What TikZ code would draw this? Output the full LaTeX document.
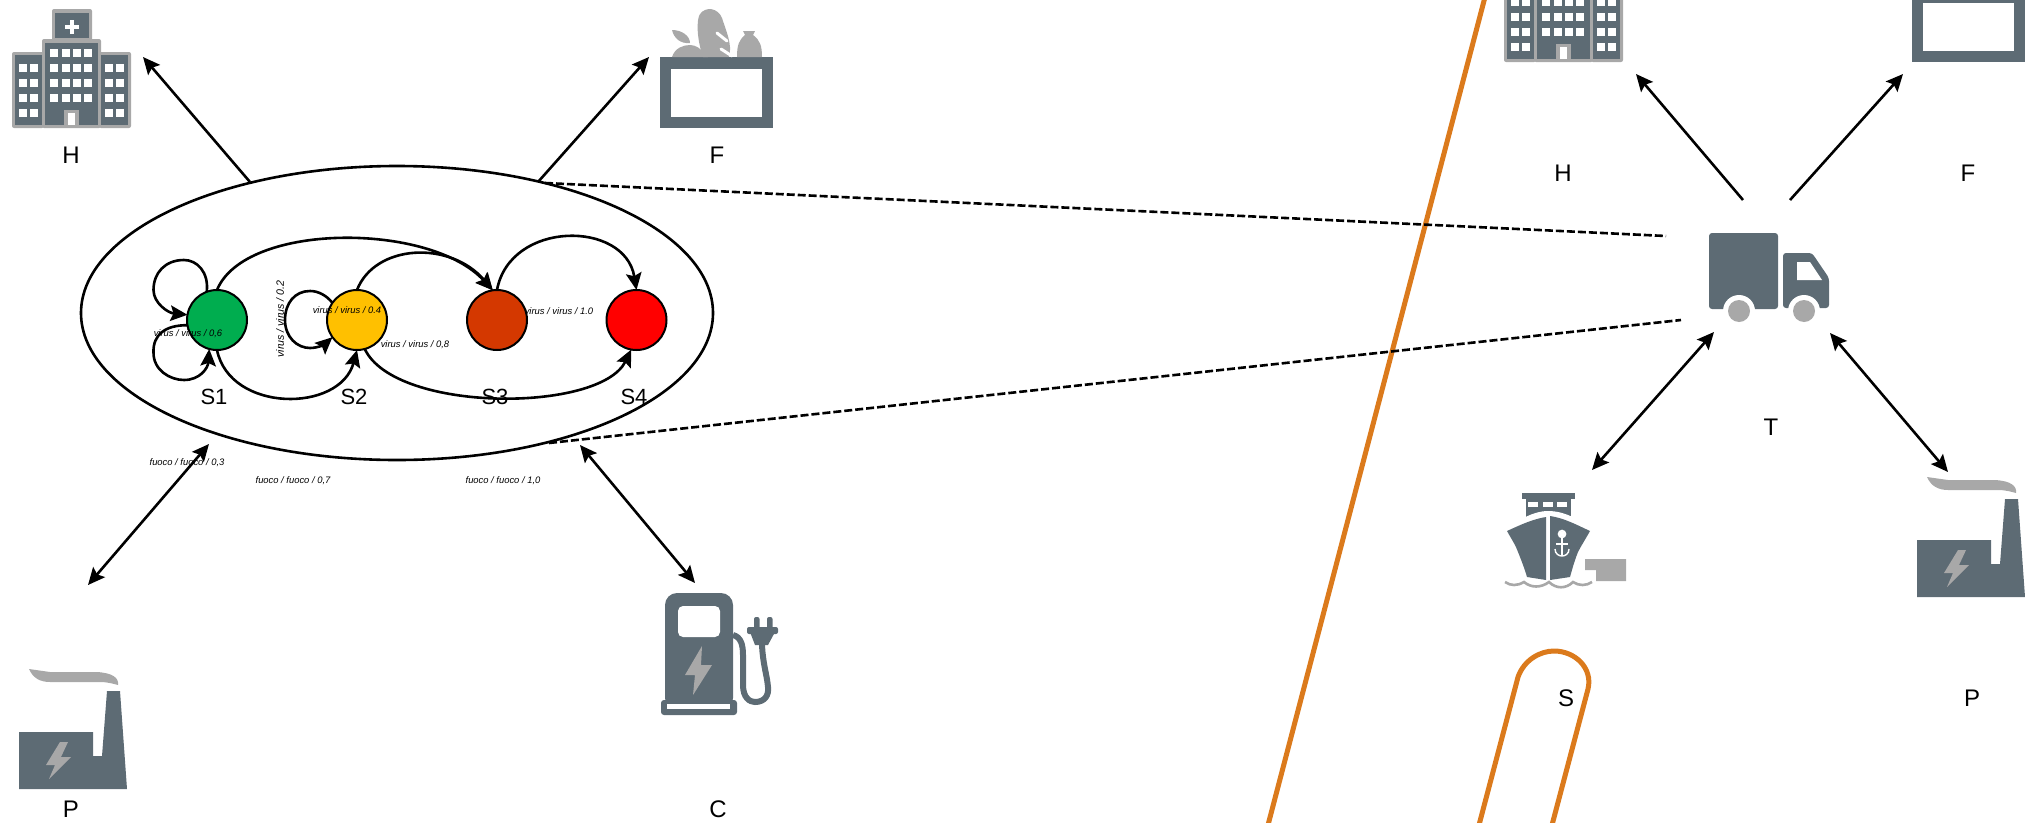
\documentclass[tikz,border=0pt]{standalone}
\usepackage{fontspec}
\setmainfont{Liberation Sans}
\usetikzlibrary{arrows.meta,shapes.geometric}
\definecolor{slateicon}{HTML}{5D6B74}
\definecolor{grayicon}{HTML}{A8A8A8}
\definecolor{orangeline}{HTML}{DB7A1C}
\tikzset{
  x=1pt,y=-1pt,
  tipshape/.tip={Stealth[length=17pt,width=15.5pt,inset=3pt]},
  arr/.style={line width=2.6pt,-{tipshape}},
  biarr/.style={line width=2.6pt,{tipshape}-{tipshape}},
  dashline/.style={line width=2.6pt,dash pattern=on 8pt off 3pt},
  bigoval/.style={draw,line width=2.6pt,ellipse,minimum width=632pt,minimum height=294pt,inner sep=0pt,outer sep=0pt},
  state/.style={draw,line width=2pt,circle,minimum size=60pt,inner sep=0pt,outer sep=0pt},
  biglabel/.style={font=\fontsize{24}{24}\selectfont,inner sep=0pt},
  slabel/.style={font=\fontsize{22}{22}\selectfont,inner sep=0pt},
  tiny/.style={font=\fontsize{9.4}{10}\selectfont\itshape,inner sep=0pt,text=black},
  sl/.style={fill=slateicon,draw=none},
  gr/.style={fill=grayicon,draw=none},
  wh/.style={fill=white,draw=none},
  route/.style={draw=orangeline,line width=5pt}
}
\newcommand{\iconHospital}{%
  \fill[gr,rounded corners=2pt] (52,9) rectangle (92,41);
  \fill[gr,rounded corners=2pt] (42,39) rectangle (101,128);
  \fill[gr,rounded corners=2pt] (12,52) rectangle (44,128);
  \fill[gr,rounded corners=2pt] (99,52) rectangle (131,128);
  \fill[sl] (55,13) rectangle (89,38);
  \fill[sl] (45,43) rectangle (98,125);
  \fill[sl] (15,55) rectangle (42,125);
  \fill[sl] (101,55) rectangle (128,125);
  \fill[wh] (69.8,20) rectangle (73.8,34);
  \fill[wh] (65,25) rectangle (79,29);
  \foreach \cx in {54,66,77,88} \foreach \cy in {53,68,83,98}
    \fill[wh] (\cx-4,\cy-4) rectangle (\cx+4,\cy+4);
  \foreach \cx in {23,34,109,120} \foreach \cy in {68,83,98,113}
    \fill[wh] (\cx-4,\cy-4) rectangle (\cx+4,\cy+4);
  \fill[gr] (64,110) rectangle (79,125);
  \fill[wh] (68,113) rectangle (75,125);
}
\newcommand{\iconCrate}{%
  \fill[sl] (660,57) rectangle (773,128);
  \fill[wh] (671,69) rectangle (762,117);
}
\newcommand{\iconProduce}{%
  \fill[gr] (672,57) .. controls (675,48) and (683,45) .. (690,45) .. controls (696,45) and (701,49) .. (704,53) -- (708,57) -- cycle;
  \fill[gr] (672,30) .. controls (682,30) and (690,36) .. (690,43) .. controls (680,44) and (674,38) .. (672,30) -- cycle;
  \fill[gr] (703,57) .. controls (697,40) and (696,20) .. (700,14) .. controls (706,6) and (718,8) .. (722,18) .. controls (725,28) and (733,45) .. (729,57) -- cycle;
  \draw[white,line width=3pt,line cap=round] (717,33) -- (727,41);
  \draw[white,line width=3pt,line cap=round] (721,49) -- (732,56);
  \fill[gr] (737,57) .. controls (737,45) and (739,40) .. (745,35) -- (743,31) -- (755,31) -- (753,35) .. controls (760,40) and (762,46) .. (762,57) -- cycle;
}
\newcommand{\iconFactory}{%
  \fill[sl] (19,732) -- (93,732) -- (93,756) -- (102,756) -- (107,691) -- (120,691) -- (127,789) -- (19,789) -- cycle;
  \fill[gr] (29,669) .. controls (33,678) and (40,682) .. (50,682) -- (100,682) .. controls (108,682) and (114,684) .. (118,685) .. controls (119,678) and (113,673) .. (97,672) -- (50,672) -- cycle;
  \fill[gr] (60,742) -- (68,742) -- (61,757) -- (71,757) -- (49,779) -- (55,765) -- (46,765) -- cycle;
}
\begin{document}
\begin{tikzpicture}
\clip (0,0) rectangle (2025,822);
% route
\draw[route] (1485,-3) -- (1268,825);
\draw[route] (1479,825) -- (1518,677) .. controls (1524,660) and (1540,651) .. (1554,651) .. controls (1575,651) and (1593,668) .. (1588,689) -- (1552,825);
% icons, left
\iconHospital
\iconCrate
\iconProduce
\iconFactory
% charger
\fill[sl,rounded corners=12pt] (665,593) -- (733,593) -- (733,710) -- (665,710) -- cycle;
\fill[sl,rounded corners=3pt] (661,700) rectangle (737,715);
\fill[wh] (667,704) rectangle (730,708.5);
\fill[wh,rounded corners=5pt] (678,606) rectangle (720,637);
\fill[gr] (702,646) -- (685,675) -- (695,675) -- (693,695) -- (712,665) -- (701,665) -- cycle;
\draw[slateicon,line width=6pt] (733,635) .. controls (741,637) and (743,645) .. (743,655) -- (743,685) .. controls (743,698) and (750,702) .. (755,702) .. controls (765,702) and (769,695) .. (768,687) .. controls (767,675) and (763,665) .. (762,645);
\fill[sl,rounded corners=2pt] (747,627) rectangle (778,634);
\fill[sl] (750,632) -- (755,645) -- (768,645) -- (775,632) -- cycle;
\fill[sl,rounded corners=2pt] (754,617) rectangle (759.5,630);
\fill[sl,rounded corners=2pt] (767,617) rectangle (772.5,630);
% icons, right
\begin{scope}[shift={(1492,-66)}]\iconHospital\end{scope}
\begin{scope}[shift={(1252,-66)}]\iconCrate\end{scope}
\begin{scope}[shift={(1898,-192)}]\iconFactory\end{scope}
% truck
\fill[sl,rounded corners=3pt] (1709,233) rectangle (1778,309);
\fill[sl,rounded corners=3pt] (1783,253) -- (1812,253) -- (1829,278) -- (1829,308) -- (1783,308) -- cycle;
\fill[wh] (1797,262) -- (1810,262) -- (1822,280) -- (1797,280) -- cycle;
\fill[wh] (1739,311) circle[radius=16];
\fill[wh] (1804,311) circle[radius=16];
\fill[gr] (1739,311) circle[radius=11];
\fill[gr] (1804,311) circle[radius=11];
% ship
\fill[sl] (1522,493) rectangle (1575,499);
\fill[sl] (1526,499) rectangle (1571,518);
\fill[wh] (1528,502) rectangle (1538,507);
\fill[wh] (1543,502) rectangle (1553,507);
\fill[wh] (1557,502) rectangle (1567,507);
\fill[wh] (1520,520) .. controls (1530,514) and (1540,511) .. (1548,511) .. controls (1558,511) and (1568,514) .. (1578,520) -- (1578,525) -- (1520,525) -- cycle;
\fill[sl] (1546,517) .. controls (1533,519) and (1520,525) .. (1507,531) .. controls (1512,540) and (1516,546) .. (1518,552) .. controls (1522,562) and (1525,570) .. (1527,577) -- (1546,580) -- cycle;
\fill[sl] (1550,516) .. controls (1564,518) and (1577,525) .. (1590,531) .. controls (1585,540) and (1581,546) .. (1578,552) .. controls (1574,562) and (1572,570) .. (1570,577) -- (1550,580) -- cycle;
\draw[white,line width=1.6pt] (1562,534) circle[radius=3.5];
\fill[wh] (1562,534) circle[radius=3];
\draw[white,line width=1.4pt] (1562,537) -- (1562,556);
\draw[white,line width=1.4pt] (1556,544) -- (1568,544);
\draw[white,line width=1.4pt] (1555,549) .. controls (1555,554) and (1559,556) .. (1562,556) .. controls (1565,556) and (1569,554) .. (1569,549);
\fill[gr] (1585,559) -- (1626,559) -- (1626,581) -- (1596,581) -- (1596,570) -- (1585,570) -- cycle;
\draw[grayicon,line width=2.6pt] (1505,582) .. controls (1511,586) and (1517,586) .. (1524,582) .. controls (1531,588) and (1541,588) .. (1549,582) .. controls (1556,589) and (1566,589) .. (1573,582) .. controls (1579,586) and (1586,586) .. (1592,582);
% oval and states
\node[bigoval] (oval) at (397,313) {};
\node[state,fill={rgb,255:red,0;green,173;blue,79}] (s1) at (217,320) {};
\node[state,fill={rgb,255:red,255;green,192;blue,0}] (s2) at (357,320) {};
\node[state,fill={rgb,255:red,212;green,56;blue,0}] (s3) at (497,320) {};
\node[state,fill=red] (s4) at (636.5,320) {};
% state arcs
\draw[arr] (s1.90) .. controls (245,222) and (430,222) .. (s3.98);
\draw[arr] (s2.90) .. controls (375,244) and (450,240) .. (s3.98);
\draw[arr] (s3.90) .. controls (510,220) and (625,220) .. (s4.90);
\draw[arr] (s1.270) .. controls (230,413) and (340,413) .. (s2.270);
\draw[arr] (s2.-75) .. controls (395,413) and (600,413) .. (s4.-100);
% self loops
\draw[arr] (s1.110) .. controls (209,272) and (197,260) .. (184,260) .. controls (165,260) and (153.5,273) .. (153.5,290) .. controls (153.5,303) and (168,313) .. (s1.170);
\draw[arr] (s1.190) .. controls (165,325) and (153,335) .. (153.5,352) .. controls (153,370) and (170,380) .. (184,380) .. controls (200,380) and (208,368) .. (s1.-105);
\draw[arr] (s2.145) .. controls (326,295) and (318,291) .. (310,291) .. controls (295,291) and (285,303) .. (285,320) .. controls (285,337) and (297,348) .. (310,348) .. controls (318,348) and (325,344) .. (s2.-145);
% connector ends
\coordinate (ovalH) at (250,182);
\coordinate (ovalF) at (538,182);
\coordinate (hL) at (143,57);
\coordinate (fL) at (649,57);
\coordinate (pA) at (209,444);
\coordinate (pL) at (88,585);
\coordinate (cA) at (580,445);
\coordinate (cL) at (695,583);
\coordinate (ovalD1) at (545,183);
\coordinate (ovalD2) at (549,443);
\coordinate (tD1) at (1666,236);
\coordinate (tD2) at (1681,320);
\coordinate (tH) at (1743,200);
\coordinate (tF) at (1790,200);
\coordinate (hR) at (1636,74);
\coordinate (fR) at (1903,74);
\coordinate (tS) at (1714,332);
\coordinate (sR) at (1592,470);
\coordinate (tP) at (1830,333);
\coordinate (pR) at (1948,472);
\draw[arr] (ovalH) -- (hL);
\draw[arr] (ovalF) -- (fL);
\draw[biarr] (pA) -- (pL);
\draw[biarr] (cA) -- (cL);
\draw[dashline] (ovalD1) -- (tD1);
\draw[dashline] (ovalD2) -- (tD2);
\draw[arr] (tH) -- (hR);
\draw[arr] (tF) -- (fR);
\draw[biarr] (tS) -- (sR);
\draw[biarr] (tP) -- (pR);
% big labels
\node[biglabel] (lH1) at (71,155) {H};
\node[biglabel] (lF1) at (717,155) {F};
\node[biglabel] (lP1) at (71,809) {P};
\node[biglabel] (lC1) at (718,809) {C};
\node[biglabel] (lH2) at (1563,173) {H};
\node[biglabel] (lF2) at (1968,173) {F};
\node[biglabel] (lT) at (1771,427.5) {T};
\node[biglabel] (lS) at (1566,698) {S};
\node[biglabel] (lP2) at (1972,698) {P};
\node[slabel] (ls1) at (214,397) {S1};
\node[slabel] (ls2) at (354,397) {S2};
\node[slabel] (ls3) at (495,397) {S3};
\node[slabel] (ls4) at (634,397) {S4};
% small labels
\node[tiny] (v1) at (188,334) {virus / virus / 0,6};
\node[tiny] (v2) at (347,310) {virus / virus / 0.4};
\node[tiny] (v3) at (415,345) {virus / virus / 0,8};
\node[tiny] (v4) at (559,311) {virus / virus / 1.0};
\node[tiny,rotate=90,font=\fontsize{10.6}{11}\selectfont\itshape] (v5) at (280,319) {virus / virus / 0.2};
\node[tiny] (f1) at (187,463) {fuoco / fuoco / 0,3};
\node[tiny] (f2) at (293,481) {fuoco / fuoco / 0,7};
\node[tiny] (f3) at (503,481) {fuoco / fuoco / 1,0};
\end{tikzpicture}
\end{document}
